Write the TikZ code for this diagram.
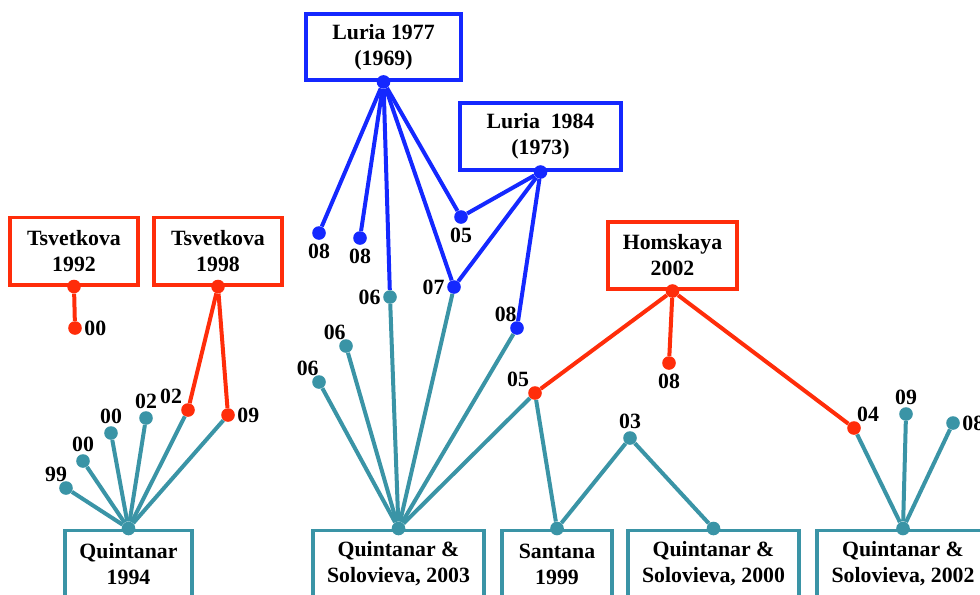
\documentclass[tikz,border=0pt]{standalone}
\usepackage{fontspec}
\setmainfont{Liberation Serif}
\usetikzlibrary{positioning}
\definecolor{rdline}{RGB}{255,45,10}
\definecolor{blline}{RGB}{20,40,255}
\definecolor{tlline}{RGB}{58,148,166}

\begin{document}
\begin{tikzpicture}[x=0.25mm,y=-0.25mm,
  box/.style={draw=#1,line width=0.95mm,fill=white,minimum height=16.8mm,align=center,inner sep=0pt,font=\fontsize{15.5}{18.5}\selectfont\bfseries},
  dot/.style={circle,fill=#1,inner sep=0pt,minimum size=3.4mm},
  lbl/.style={font=\fontsize{15.5}{18}\selectfont\bfseries,inner sep=0.5pt},
  lnk/.style={draw=#1,line width=1mm}]
\useasboundingbox (0,0) rectangle (980,594);
% boxes
\node[box=rdline,minimum width=32mm] (t92) at (74,251) {Tsvetkova\\1992};
\node[box=rdline,minimum width=32mm] (t98) at (218,251) {Tsvetkova\\1998};
\node[box=blline,minimum width=38.75mm,minimum height=16.5mm] (l77) at (383.5,47) {Luria 1977\\(1969)};
\node[box=blline,minimum width=40.25mm] (l84) at (540.5,136.5) {Luria\ \ 1984\\(1973)};
\node[box=rdline,minimum width=32.25mm] (hom) at (672.5,255.5) {Homskaya\\2002};
\node[box=tlline,minimum width=31.75mm] (q94) at (128.5,564) {Quintanar\\1994};
\node[box=tlline,minimum width=42.75mm] (qs03) at (398.5,564) {Quintanar \&\\Solovieva, 2003};
\node[box=tlline,minimum width=27.5mm] (san) at (557,564) {Santana\\1999};
\node[box=tlline,minimum width=42.75mm] (qs00) at (713.5,564) {Quintanar \&\\Solovieva, 2000};
\node[box=tlline,minimum width=43mm] (qs02) at (903,564) {Quintanar \&\\Solovieva, 2002};

% dots on the boxes
\node[dot=rdline] (t92d) at (t92.south) {};
\node[dot=rdline] (t98d) at (t98.south) {};
\node[dot=blline] (l77d) at (l77.south) {};
\node[dot=blline] (l84d) at (l84.south) {};
\node[dot=rdline] (homd) at (hom.south) {};
\node[dot=tlline] (q94d) at (q94.north) {};
\node[dot=tlline] (qs03d) at (qs03.north) {};
\node[dot=tlline] (sand) at (san.north) {};
\node[dot=tlline] (qs00d) at (qs00.north) {};
\node[dot=tlline] (qs02d) at (qs02.north) {};

% end dots
\node[dot=rdline] (t92a) at (75,328) {};
\node[dot=rdline] (t98a) at (188,410) {};
\node[dot=rdline] (t98b) at (228,415) {};
\node[dot=tlline] (q94a) at (66,488) {};
\node[dot=tlline] (q94b) at (83,461) {};
\node[dot=tlline] (q94c) at (111,433) {};
\node[dot=tlline] (q94e) at (146,418) {};
\node[dot=blline] (l77a) at (319,233) {};
\node[dot=blline] (l77b) at (360,238) {};
\node[dot=tlline] (l77c) at (390,297) {};
\node[dot=blline] (l77e) at (461,217) {};
\node[dot=blline] (l77f) at (454,287) {};
\node[dot=blline] (l84a) at (517,328) {};
\node[dot=tlline] (qs03a) at (346,346) {};
\node[dot=tlline] (qs03b) at (319,382) {};
\node[dot=rdline] (homa) at (535,393) {};
\node[dot=rdline] (homb) at (669,363) {};
\node[dot=rdline] (homc) at (854,428) {};
\node[dot=tlline] (sana) at (630,438) {};
\node[dot=tlline] (qs02a) at (906,414) {};
\node[dot=tlline] (qs02b) at (953,423) {};

% labels
\node[lbl,right=1pt of t92a] {00};
\node[lbl,above left=0pt and 0pt of t98a] {02};
\node[lbl,right=1pt of t98b] {09};
\node[lbl,above left=0pt and -5pt of q94a] {99};
\node[lbl,above=1pt of q94b] {00};
\node[lbl,above=1pt of q94c] {00};
\node[lbl,above=1pt of q94e] {02};
\node[lbl,below=2pt of l77a] {08};
\node[lbl,below=2pt of l77b] {08};
\node[lbl,below=2pt of l77e] {05};
\node[lbl,left=1pt of l77f] {07};
\node[lbl,left=1pt of l77c] {06};
\node[lbl,above left=0pt and -4pt of l84a] {08};
\node[lbl,above left=0pt and -4pt of qs03a] {06};
\node[lbl,above left=0pt and -4pt of qs03b] {06};
\node[lbl,above left=0pt and 0pt of homa] {05};
\node[lbl,below=2pt of homb] {08};
\node[lbl,above right=0pt and -2pt of homc] {04};
\node[lbl,above=1pt of sana] {03};
\node[lbl,above=1pt of qs02a] {09};
\node[lbl,right=1pt of qs02b] {08};

% red links
\draw[lnk=rdline] (t92d) -- (t92a);
\draw[lnk=rdline] (t98d) -- (t98a);
\draw[lnk=rdline] (t98d) -- (t98b);
\draw[lnk=rdline] (homd) -- (homa);
\draw[lnk=rdline] (homd) -- (homb);
\draw[lnk=rdline] (homd) -- (homc);
% blue links
\foreach \e in {l77a,l77b,l77c,l77e,l77f}
  \draw[lnk=blline] (l77d) -- (\e);
\foreach \e in {l77e,l77f,l84a}
  \draw[lnk=blline] (l84d) -- (\e);
% teal links
\foreach \e in {q94a,q94b,q94c,q94e,t98a,t98b}
  \draw[lnk=tlline] (q94d) -- (\e);
\foreach \e in {qs03b,qs03a,l77c,l77f,l84a,homa}
  \draw[lnk=tlline] (qs03d) -- (\e);
\draw[lnk=tlline] (sand) -- (homa);
\draw[lnk=tlline] (sand) -- (sana);
\draw[lnk=tlline] (sana) -- (qs00d);
\foreach \e in {homc,qs02a,qs02b}
  \draw[lnk=tlline] (qs02d) -- (\e);
\end{tikzpicture}
\end{document}
